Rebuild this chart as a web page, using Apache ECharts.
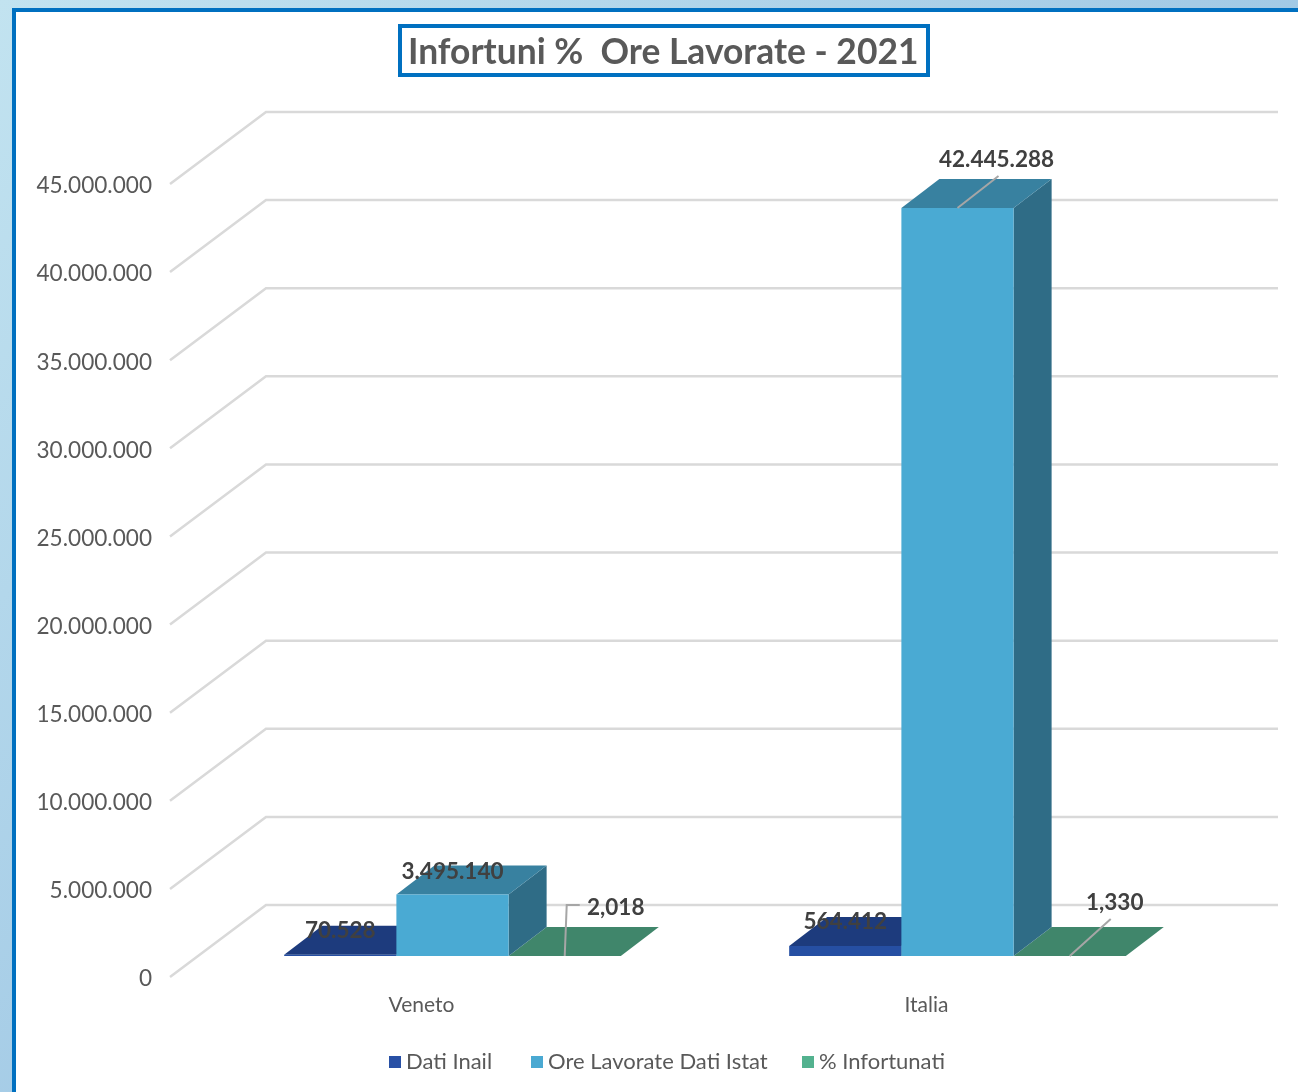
<!DOCTYPE html>
<html>
<head>
<meta charset="utf-8">
<title>Infortuni % Ore Lavorate - 2021</title>
<script src="https://cdn.jsdelivr.net/npm/echarts@6/dist/echarts.min.js"></script>
<style>
html, body { margin: 0; padding: 0; width: 1298px; height: 1092px; overflow: hidden; }
body { background: linear-gradient(135deg, #c2e3f0 0%, #a4cbe6 50%, #8dbde4 100%); }
#frame { position: absolute; left: 12px; top: 8px; width: 1400px; height: 1200px; background: #fff; border: 4px solid #0070c0; box-sizing: border-box; }
#main { position: absolute; left: 0; top: 0; width: 1298px; height: 1092px; }
</style>
</head>
<body>
<div id="frame"></div>
<div id="main"></div>
<script>
var categories = ['Veneto', 'Italia']
var seriesNames = ['Dati Inail', 'Ore Lavorate Dati Istat', '% Infortunati']
var datiInail = [70528, 564412]
var oreLavorate = [3495140, 42445288]
var percInfortunati = [2.018, 1.330]
var yTicks = [0, 5000000, 10000000, 15000000, 20000000, 25000000, 30000000, 35000000, 40000000, 45000000]

var FONT = 'Lato'
// profondita' del pavimento e dei parallelepipedi, in pixel
var FLOOR = [94, -71]
var BAR_FRONT = [28, -20]
var BAR_DEPTH = [38, -29]
var LEGEND_LEFT = [389, 531, 802]

function itNumber(v) {
  return String(v).replace(/\B(?=(\d{3})+(?!\d))/g, '.')
}

function face(points, color) {
  return { type: 'polygon', shape: { points: points }, style: { fill: color }, silent: true }
}

function valueLabel(x, y, text) {
  return {
    type: 'text', z2: 20, silent: true,
    style: { x: x, y: y + 1, text: text, fill: '#404040', font: 'bold 22.5px ' + FONT, textAlign: 'center', textVerticalAlign: 'middle' }
  }
}

function leader(points) {
  return {
    type: 'polyline', z2: 15, silent: true,
    shape: { points: points },
    style: { stroke: '#a6a6a6', lineWidth: 2, fill: null }
  }
}

// una colonna 3D: slot 0,1,2 dentro la categoria
function bar3d(slot, colors, labelFn) {
  return function (params, api) {
    var band = api.size([1, 0])[0]
    var w = band / 4.5
    var base = api.coord([api.value(0), 0])
    var top = api.coord([api.value(0), api.value(1)])
    var x0 = base[0] + BAR_FRONT[0] - 1.5 * w + slot * w
    var x1 = x0 + w
    var y0 = base[1] + BAR_FRONT[1]
    var y1 = top[1] + BAR_FRONT[1]
    var dx = BAR_DEPTH[0]
    var dy = BAR_DEPTH[1]
    var children = [
      face([[x1, y0], [x1 + dx, y0 + dy], [x1 + dx, y1 + dy], [x1, y1]], colors[2]),
      face([[x0, y1], [x1, y1], [x1 + dx, y1 + dy], [x0 + dx, y1 + dy]], colors[1]),
      face([[x0, y0], [x1, y0], [x1, y1], [x0, y1]], colors[0])
    ]
    return { type: 'group', children: children.concat(labelFn(params.dataIndex, x0, x1, y1, y0, api.value(1))) }
  }
}

var chart = echarts.init(document.getElementById('main'), null, { renderer: 'canvas' })

chart.setOption({
  backgroundColor: 'transparent',
  animation: false,
  title: {
    text: 'Infortuni %  Ore Lavorate - 2021',
    left: 400, top: 26,
    padding: [9, 10, 5, 8],
    borderColor: '#0070c0', borderWidth: 4,
    textStyle: { fontFamily: FONT, fontSize: 35.4, fontWeight: 'bold', color: '#595959' }
  },
  legend: seriesNames.map(function (name, i) {
    return {
      left: LEGEND_LEFT[i], top: 1051, padding: 0,
      itemWidth: 12, itemHeight: 12,
      icon: 'rect',
      textStyle: { fontFamily: FONT, fontSize: 22, color: '#595959' },
      data: [name]
    }
  }),
  grid: { left: 172, width: 1010, top: 183, height: 793 },
  xAxis: {
    type: 'category', data: categories,
    axisLine: { show: false }, axisTick: { show: false },
    axisLabel: { fontFamily: FONT, fontSize: 21, color: '#595959', margin: 19, padding: [0, 6, 0, 0] }
  },
  yAxis: {
    type: 'value', min: 0, max: 45000000, interval: 5000000,
    axisLine: { show: false }, axisTick: { show: false }, splitLine: { show: false },
    axisLabel: {
      margin: 20,
      formatter: function (v) { return '{v|' + itNumber(v) + '}' },
      rich: { v: { fontFamily: FONT, fontSize: 22.6, color: '#595959', padding: [6, 0, 0, 0] } }
    }
  },
  series: [
    {
      // griglia prospettica: parete laterale e parete di fondo
      type: 'custom', silent: true, z: 1,
      data: yTicks.map(function (t) { return [0, t] }),
      encode: { x: 0, y: 1 },
      clip: false,
      renderItem: function (params, api) {
        var cs = params.coordSys
        var y = api.coord([0, api.value(1)])[1]
        return {
          type: 'polyline', silent: true,
          shape: { points: [[cs.x - 2, y + 1], [cs.x + FLOOR[0], y + FLOOR[1]], [cs.x + cs.width + FLOOR[0] + 2, y + FLOOR[1]]] },
          style: { stroke: '#d9d9d9', lineWidth: 2.5, fill: null }
        }
      }
    },
    {
      name: seriesNames[0], type: 'custom', z: 2, clip: false,
      itemStyle: { color: '#2850a5' },
      data: datiInail.map(function (v, i) { return [i, v] }),
      encode: { x: 0, y: 1 },
      renderItem: bar3d(0, ['#264fa3', '#1d3b7d', '#1a3570'], function (i, x0, x1, y1, y0, v) {
        return [valueLabel((x0 + x1) / 2, y1 - 25, itNumber(v))]
      })
    },
    {
      name: seriesNames[1], type: 'custom', z: 3, clip: false,
      itemStyle: { color: '#4aa9d2' },
      data: oreLavorate.map(function (v, i) { return [i, v] }),
      encode: { x: 0, y: 1 },
      renderItem: bar3d(1, ['#4aaad3', '#3881a0', '#2f6c86'], function (i, x0, x1, y1, y0, v) {
        var cx = (x0 + x1) / 2
        if (i === 0) return [valueLabel(cx, y1 - 24, itNumber(v))]
        return [
          leader([[cx, y1], [cx + 41, y1 - 32]]),
          valueLabel(cx + 39, y1 - 49, itNumber(v))
        ]
      })
    },
    {
      name: seriesNames[2], type: 'custom', z: 2, clip: false,
      itemStyle: { color: '#53b28f' },
      data: percInfortunati.map(function (v, i) { return [i, v] }),
      encode: { x: 0, y: 1 },
      renderItem: bar3d(2, ['#53b28f', '#40866b', '#3a7a61'], function (i, x0, x1, y1, y0, v) {
        var cx = (x0 + x1) / 2
        var txt = v.toFixed(3).replace('.', ',')
        if (i === 0) {
          return [
            leader([[cx, y1], [cx + 2, y1 - 51], [cx + 15, y1 - 51]]),
            valueLabel(cx + 51, y1 - 49, txt)
          ]
        }
        return [
          leader([[cx, y1], [cx + 41, y1 - 37]]),
          valueLabel(cx + 45, y1 - 54, txt)
        ]
      })
    }
  ]
})
</script>
</body>
</html>
